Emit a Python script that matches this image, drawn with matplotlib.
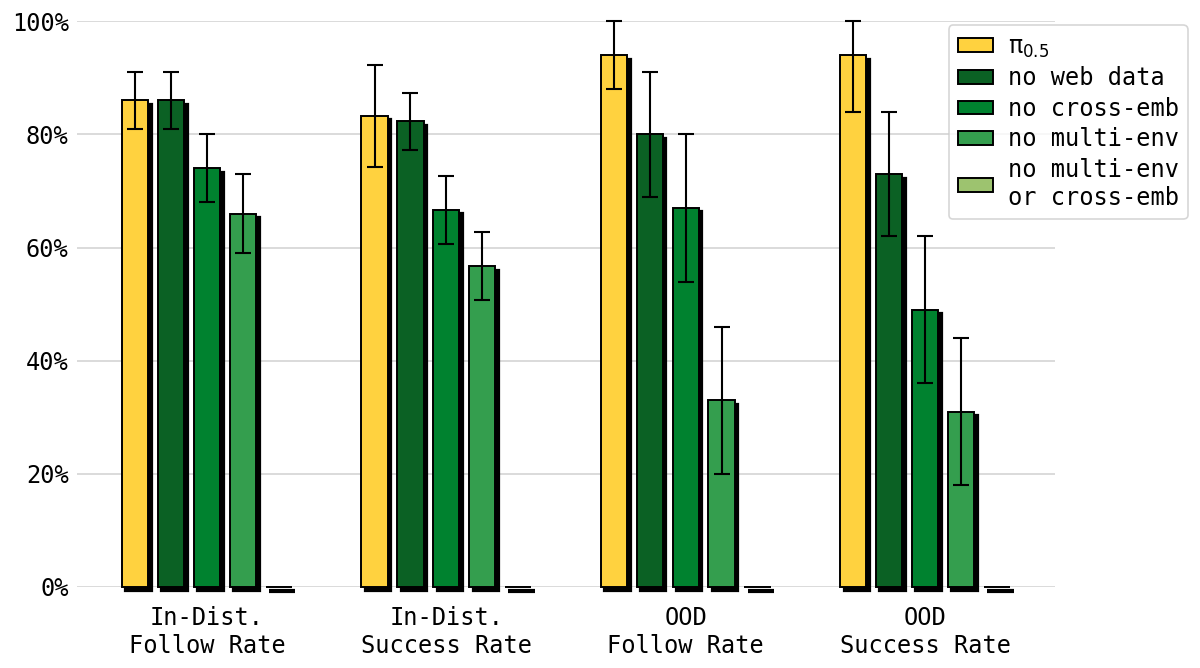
import matplotlib
matplotlib.use("Agg")
import matplotlib.pyplot as plt
import matplotlib.transforms as mtransforms
import numpy as np

categories = ["In-Dist.\nFollow Rate", "In-Dist.\nSuccess Rate", "OOD\nFollow Rate", "OOD\nSuccess Rate"]
series_names = ["π$_{0.5}$", "no web data", "no cross-emb", "no multi-env", "no multi-env\nor cross-emb"]
colors = ["#FFD23F", "#0B6124", "#00822F", "#349E4E", "#9DC36F"]

values = [
    [86.0, 83.3, 94.0, 94.0],   # pi0.5
    [86.0, 82.3, 80.0, 73.0],   # no web data
    [74.0, 66.7, 67.0, 49.0],   # no cross-emb
    [66.0, 56.7, 33.0, 31.0],   # no multi-env
    [0.0, 0.0, 0.0, 0.0],       # no multi-env or cross-emb
]
err_low = [
    [81.0, 74.3, 88.0, 84.0],
    [81.0, 77.3, 69.0, 62.0],
    [68.0, 60.7, 54.0, 36.0],
    [59.0, 50.7, 20.0, 18.0],
    [None, None, None, None],
]
err_high = [
    [91.0, 92.3, 100.0, 100.0],
    [91.0, 87.3, 91.0, 84.0],
    [80.0, 72.7, 80.0, 62.0],
    [73.0, 62.7, 46.0, 44.0],
    [None, None, None, None],
]
yticks = [0, 20, 40, 60, 80, 100]

plt.rcParams["font.family"] = ["DejaVu Sans Mono", "DejaVu Sans"]
plt.rcParams["mathtext.fontset"] = "dejavusans"

fig = plt.figure(figsize=(12, 6.68), dpi=100)
ax = fig.add_axes([77 / 1200, 1 - 587 / 668, (1055 - 77) / 1200, (587 - 21.3) / 668])

x = np.arange(len(categories))
spacing = 0.15
width = 0.11
shadow_tr = mtransforms.offset_copy(ax.transData, fig=fig, x=3.5, y=-3.5, units="dots")

for j, (name, col) in enumerate(zip(series_names, colors)):
    pos = x + (j - 2) * spacing
    vals = np.array(values[j])
    shadow_lw = 3.0 if np.all(vals == 0) else 1.6
    ax.bar(pos, vals, width=width, color="black", edgecolor="black", linewidth=shadow_lw,
           transform=shadow_tr, zorder=2, clip_on=False)
    ax.bar(pos, vals, width=width, color=col, edgecolor="black", linewidth=1.4,
           zorder=3, clip_on=False, label=name)
    if err_low[j][0] is not None:
        lo = vals - np.array(err_low[j])
        hi = np.array(err_high[j]) - vals
        ax.errorbar(pos, vals, yerr=[lo, hi], fmt="none", ecolor="black",
                    elinewidth=1.5, capsize=6, capthick=1.5, zorder=4, clip_on=False)

ax.set_xlim(-0.543, 3.543)
ax.set_ylim(0, 100)
ax.set_yticks(yticks)
ax.set_yticklabels([f"{t}%" for t in yticks], fontsize=17)
ax.set_xticks(x)
ax.set_xticklabels(categories, fontsize=17, linespacing=1.2)
ax.tick_params(axis="x", length=0, pad=14)
ax.tick_params(axis="y", length=0, pad=6)
ax.grid(axis="y", color="#d4d4d4", linewidth=1.2, zorder=0)
ax.set_axisbelow(True)
for s in ax.spines.values():
    s.set_visible(False)

leg = ax.legend(loc="upper right", bbox_to_anchor=(1188 / 1200, 1 - 25 / 668),
                bbox_transform=fig.transFigure, borderaxespad=0, fontsize=17,
                handlelength=1.5, handleheight=0.5, handletextpad=0.6,
                labelspacing=0.28, frameon=True, fancybox=True, borderpad=0.4)
leg.get_frame().set_edgecolor("#cccccc")
leg.get_frame().set_linewidth(1.2)

fig.savefig("out.png", dpi=100)
